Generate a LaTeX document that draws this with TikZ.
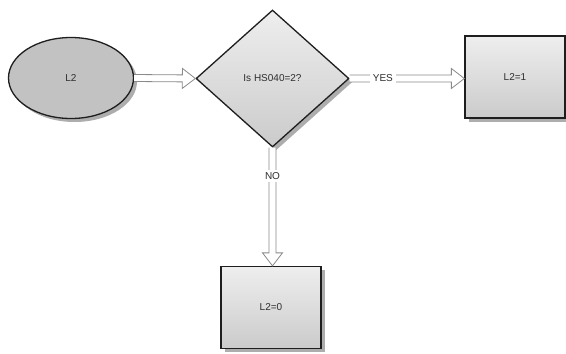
\documentclass[tikz,border=0pt]{standalone}
\usepackage{fontspec}
\setmainfont{Liberation Sans}
\usetikzlibrary{shapes.geometric,shadows,calc}
\definecolor{outline}{HTML}{1E1E1E}
\definecolor{arrowline}{HTML}{8A8A8A}
\definecolor{textgray}{HTML}{2E2E2E}
\definecolor{startfill}{HTML}{C2C2C2}
\definecolor{boxtop}{HTML}{EEEEEE}
\definecolor{boxbottom}{HTML}{CBCBCB}
\begin{document}
\begin{tikzpicture}[x=1pt,y=-1pt,
  every node/.style={font=\fontsize{10}{12}\selectfont, text=textgray, inner sep=0pt},
  softshadow/.style={drop shadow={shadow xshift=3.5pt, shadow yshift=-3.5pt, fill=black!40, opacity=0.8}},
  startnode/.style={ellipse, draw=outline, line width=1.3pt, fill=startfill,
    minimum width=125pt, minimum height=81pt, softshadow},
  decision/.style={diamond, draw=outline, line width=1.3pt, top color=boxtop, bottom color=boxbottom,
    minimum width=153pt, minimum height=137pt, softshadow},
  result/.style={rectangle, draw=outline, line width=1.3pt, top color=boxtop, bottom color=boxbottom,
    minimum width=100pt, minimum height=82pt, softshadow},
  lbl/.style={fill=white, inner xsep=3pt, inner ysep=2pt},
  hollowarrow/.style={draw=arrowline, line width=0.8pt, fill=white, line join=miter,
    to path={let \p1=(\tikztostart), \p2=(\tikztotarget), \p3=($(\p2)!13pt!(\p1)$) in
      ($(\p1)!3.5pt!90:(\p2)$) -- ($(\p3)!3.5pt!90:(\p2)$) -- ($(\p3)!10pt!90:(\p2)$)
      -- (\p2) -- ($(\p3)!10pt!-90:(\p2)$) -- ($(\p3)!3.5pt!-90:(\p2)$)
      -- ($(\p1)!3.5pt!-90:(\p2)$)}}
]
\useasboundingbox[fill=white] (0,0) rectangle (566,354);

% flow nodes
\node[startnode] (start) at (71,78) {L2};
\node[decision] (test) at (272.5,78.5) {Is HS040=2?};
\node[result] (yes) at (515,77) {L2=1};
\node[result] (no) at (271,307.5) {L2=0};

% hollow connectors
\draw[hollowarrow] (start.east) to (test.west);
\draw[hollowarrow] (test.east) to (yes.west |- test.east);
\draw[hollowarrow] (test.south) to (test.south |- no.north);

% branch labels
\path (test.east) -- (yes.west |- test.east) node[lbl, pos=0.29] {YES};
\path (test.south) -- (test.south |- no.north) node[lbl, pos=0.24] {NO};
\end{tikzpicture}
\end{document}
